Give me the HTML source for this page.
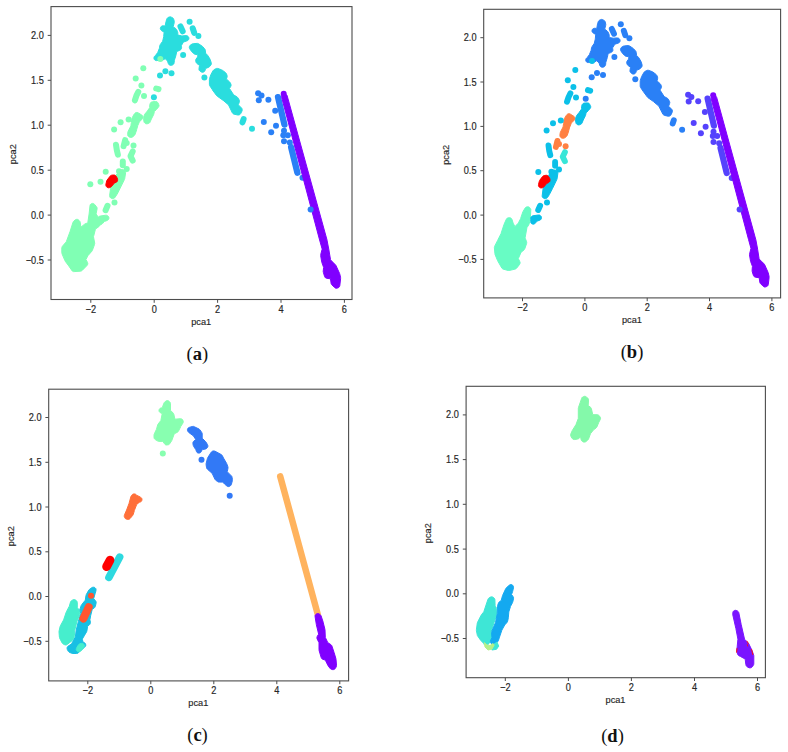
<!DOCTYPE html>
<html><head><meta charset="utf-8"><style>
html,body{margin:0;padding:0;background:#fff;}
svg{display:block;}
.t{font-family:"Liberation Sans",sans-serif;font-size:9.2px;fill:#262626;stroke:#262626;stroke-width:0.15px;}
.cap{font-family:"Liberation Serif",serif;font-size:18.5px;fill:#111;}
</style></head><body>
<svg width="788" height="752" viewBox="0 0 788 752">
<rect width="788" height="752" fill="#fff"/>
<g>
<polygon points="78.7,220.1 78.2,219.7 77.6,219.4 77,219.3 76.3,219.4 75.7,219.6 75.2,219.9 73.8,221.1 73.3,221.7 73,222.3 70,231.7 70,231.7 66.3,241.7 66,242.1 62.4,246.3 62.1,246.8 61.9,247.4 61.8,248 61.8,252.8 61.9,253.3 62,253.8 64.9,260.6 65.2,261.2 68.8,266 68.8,266 71.8,270.4 72.2,271 72.8,271.3 73.4,271.6 74.1,271.6 80.5,271.2 81.1,271 81.7,270.8 82.2,270.4 87,265.5 87.4,265 87.7,264.3 87.8,263.7 87.7,263 87.5,262.4 86,259.7 85.9,259.6 86,259.5 87.7,256 87.9,255.7 91.9,251.2 92.4,250.3 94.5,244.5 94.7,243.8 94.7,243.1 93.5,236.9 93.5,236.8 93.5,236.7 95.4,229.3 95.4,229.2 95.5,229.1 99.1,226.4 99.6,225.9 100,225.2 100.2,224.5 100.1,223.7 98.7,218.2 98.4,217.4 96.2,214.1 96.1,214 96.1,213.8 97.1,208.8 97.1,208 96.9,207.3 96.5,206.7 94.6,204.4 94,203.9 93.4,203.6 93.4,203.6 92.7,203.4 92.1,203.5 91.4,203.7 90.9,204 90.4,204.5 90.1,205.1 90,205.7 89.1,214 89.1,214 87.8,222.6 87.8,222.8 87.6,222.9 85,223.9 84.3,224.4 80.9,227.2 80.8,227.3 80.8,227.1 80.3,222.5 80.2,221.9 79.9,221.4 79.5,220.9" fill="#80ffb4" stroke="#80ffb4" stroke-width="1" stroke-linejoin="round"/>
<polygon points="100.1,216.1 99.4,216.3 98.8,216.6 98.4,217.1 98.1,217.7 97.9,218.4 97.9,219.1 98,219.4 98,219.6 97.9,221.9 98,222.6 98.2,223.2 98.7,223.8 99.2,224.2 99.9,224.5 100.6,224.6 101.3,224.4 102,224.1 102.5,223.6 104.2,221.6 104.3,221.5 104.5,221.4 107.2,220.5 107.8,220.1 108.3,219.7 108.7,219.1 108.9,218.5 108.9,217.8 108.8,217.1 108.5,216.5 108,216 107.7,215.8 107.1,215.4 106.4,215.2 105.6,215.2" fill="#80ffb4" stroke="#80ffb4" stroke-width="1" stroke-linejoin="round"/>
<polyline points="107.5,205.8 105.6,210.2" fill="none" stroke="#80ffb4" stroke-width="6" stroke-linecap="round" stroke-linejoin="round"/>
<circle cx="114.5" cy="202.6" r="3" fill="#80ffb4"/>
<polygon points="123.1,169.7 122.5,169.5 121.9,169.5 121.2,169.7 120.6,170 120.2,170.4 116,175.1 115.5,175.8 110.7,187.8 110.6,188.4 109.6,195.5 109.6,196.2 109.8,196.8 110.1,197.4 110.6,197.9 110.9,198.1 111.6,198.5 112.3,198.7 113.1,198.6 113.5,198.5 114.1,198.2 114.6,197.9 115,197.4 116.9,194.5 117.1,194.3 120.2,188.1 120.2,188.1 124.4,179.6 124.7,178.8 125.6,172.9 125.6,172.2 125.4,171.6 125.1,171 124.6,170.5 124,170.1" fill="#80ffb4" stroke="#80ffb4" stroke-width="1" stroke-linejoin="round"/>
<circle cx="105.7" cy="171.7" r="3" fill="#80ffb4"/>
<circle cx="119" cy="171.3" r="3" fill="#80ffb4"/>
<circle cx="126.7" cy="169" r="3" fill="#80ffb4"/>
<circle cx="100.5" cy="181.7" r="3" fill="#80ffb4"/>
<circle cx="90.3" cy="184.3" r="3" fill="#80ffb4"/>
<polyline points="122.8,161.4 122.8,165.2" fill="none" stroke="#80ffb4" stroke-width="6" stroke-linecap="round" stroke-linejoin="round"/>
<polyline points="132.7,151.5 130.5,156.1 132.7,160.6" fill="none" stroke="#80ffb4" stroke-width="6" stroke-linecap="round" stroke-linejoin="round"/>
<polyline points="116,144.7 116.8,150 117.9,154.6" fill="none" stroke="#80ffb4" stroke-width="6" stroke-linecap="round" stroke-linejoin="round"/>
<circle cx="133.5" cy="145.4" r="3" fill="#80ffb4"/>
<polyline points="125.1,140.1 123.6,146.2" fill="none" stroke="#80ffb4" stroke-width="6" stroke-linecap="round" stroke-linejoin="round"/>
<circle cx="126.7" cy="143.1" r="3" fill="#80ffb4"/>
<polygon points="138.4,112.9 137.8,112.6 137,112.4 136.3,112.5 135.6,112.7 135,113.2 134.5,113.7 134.1,114.2 132.3,117.5 131.9,118.4 131.4,122.4 130.9,125.7 130.8,126.1 128.2,131.2 127.9,132 127.7,134.2 127.7,134.9 127.8,135.6 128.2,136.2 128.6,136.6 129.2,137 129.9,137.3 130.6,137.5 131.3,137.5 132,137.3 132.6,136.9 134.3,135.5 134.8,134.9 135.1,134.3 136.6,130 136.6,129.8 137.7,126 137.7,125.8 139.3,122.1 139.6,121.7 142.2,119.1 142.7,118.5 142.9,117.8 143,117.1 142.9,116.4 142.5,115.8 142.1,115.2 141.7,115 141.7,115 139,113.3 138.9,113.3" fill="#80ffb4" stroke="#80ffb4" stroke-width="1" stroke-linejoin="round"/>
<polygon points="152.4,101.8 151.8,101.9 151.1,102.2 150.6,102.7 150.3,103.3 149.9,104.2 149.8,104.7 149.7,105.2 149.7,107.4 149.7,107.6 149.6,107.8 147.4,110.9 147.4,111 144.9,114 144.4,114.9 143.7,117.5 143.6,118 143.6,118.5 143.9,121.3 144,122 144.4,122.6 144.9,123.1 145.2,123.3 145.7,123.7 146.4,123.8 147,123.9 147.6,123.7 148.6,123.4 149.3,123.1 149.8,122.6 150.1,121.9 151.4,119 151.4,119 153.6,114.7 153.8,114.1 154.3,111.8 154.3,111.6 154.4,111.5 156.5,109.4 156.7,109.2 158.4,107.2 158.8,106.6 159,105.8 159,105.1 158.7,104.4 158,102.9 157.7,102.4 157.2,102 156.7,101.6 156,101.5 155.4,101.5" fill="#80ffb4" stroke="#80ffb4" stroke-width="1" stroke-linejoin="round"/>
<circle cx="128.6" cy="119.4" r="3" fill="#80ffb4"/>
<circle cx="120.6" cy="122.2" r="3" fill="#80ffb4"/>
<circle cx="114.1" cy="129.4" r="3" fill="#80ffb4"/>
<circle cx="143.3" cy="68.2" r="3" fill="#80ffb4"/>
<circle cx="135.7" cy="78.6" r="3" fill="#80ffb4"/>
<circle cx="141.4" cy="85.4" r="3" fill="#80ffb4"/>
<circle cx="144" cy="96.1" r="3" fill="#80ffb4"/>
<polyline points="156.2,88.5 158.5,89.2" fill="none" stroke="#80ffb4" stroke-width="6" stroke-linecap="round" stroke-linejoin="round"/>
<polyline points="138.3,91.9 136.4,95.7 134.9,100.3" fill="none" stroke="#80ffb4" stroke-width="6" stroke-linecap="round" stroke-linejoin="round"/>
<polygon points="111.7,175.2 111,175.4 110.4,175.8 110,176.3 107.1,180.1 106.8,180.5 106.7,181 105.9,184.3 105.8,185.1 106,185.8 106.3,186.5 106.5,186.7 107,187.3 107.7,187.6 108.4,187.8 109.2,187.7 109.8,187.6 110.5,187.3 111.2,186.8 114.4,183.1 114.5,183 114.6,182.9 116,182.4 116.7,182 117.2,181.4 117.5,180.7 117.6,180 117.6,179.4 117.5,178.6 117.2,178 116,176.1 115.5,175.6 114.9,175.2 114.2,175 113.4,175" fill="#ff0000" stroke="#ff0000" stroke-width="1" stroke-linejoin="round"/>
<polygon points="155.1,55.8 154.6,56.2 154.2,56.8 154,57.4 153.9,58 154,58.7 154.2,59.3 154.6,59.8 155.1,60.2 155.7,60.5 156.3,60.6 157,60.6 158.3,60.3 158.5,60.3 161.5,60.3 162.2,60.2 162.8,60 165.1,58.8 165.2,58.7 165.3,58.8 167.4,60.9 167.5,61 167.5,61.1 168.3,63.5 168.5,64.1 168.9,64.6 169.4,64.9 170,65.2 170.2,65.3 170.9,65.4 171.6,65.3 172.3,65.1 172.8,64.8 173.3,64.4 173.7,63.9 174,63.4 174.1,62.8 174.4,60.4 174.4,60.2 175.8,55.9 175.9,55.5 176.7,51.7 176.7,51.5 176.9,51.4 179.4,50.5 180,50.2 180.5,49.8 181,49.4 181.3,48.9 181.5,48.3 181.6,47.7 181.5,47 181.2,46 181.2,45.8 181.3,45.7 183.4,42.1 183.5,42 183.6,42 187.1,40.8 187.8,40.5 188.3,40 188.7,39.4 188.9,38.7 188.9,38 188.7,37.3 188.3,36.7 188.2,36.5 187.7,36.1 187.2,35.8 186.6,35.6 186,35.6 182.2,35.9 181.8,35.9 178,35.1 177.8,35.1 177.8,34.9 177.8,32.7 177.7,32.1 177.5,31.6 176.6,29.6 176.2,29.1 175.8,28.6 173.3,26.9 173.2,26.8 173.2,26.6 174.2,22.8 174.3,22.2 174.3,21.6 173.8,19.6 173.6,18.9 173.2,18.3 172.6,17.8 171.4,17.2 170.8,16.9 170.2,16.8 169.6,16.9 169,17.1 168.1,17.5 167.5,17.9 167.1,18.4 166.8,19.1 166.1,21.2 166,21.6 165.2,25.8 165.2,26 165,26 163.2,25.8 162.5,25.8 161.9,26 161.3,26.4 160.8,26.9 160.5,27.5 160.3,28.1 160.4,28.8 160.6,29.5 160.9,30 161.1,30.2 161.8,30.8 163.9,32 164.1,32.1 164.1,32.3 163.7,36.6 163.7,36.8 162.7,41 162.5,41.4 160.3,44.5 160,45 159.8,45.6 159.5,47.9 159.4,48.3 157.7,52.5 157.5,52.8 155.4,55.6 155.3,55.7" fill="#2addde" stroke="#2addde" stroke-width="1" stroke-linejoin="round"/>
<polyline points="180.5,26.4 182.7,31.3" fill="none" stroke="#2addde" stroke-width="6" stroke-linecap="round" stroke-linejoin="round"/>
<circle cx="189.6" cy="21.8" r="3" fill="#2addde"/>
<polyline points="192.7,28.3 194.2,32.8" fill="none" stroke="#2addde" stroke-width="6" stroke-linecap="round" stroke-linejoin="round"/>
<circle cx="198.4" cy="35.9" r="3" fill="#2addde"/>
<circle cx="183.1" cy="54.9" r="3" fill="#2addde"/>
<circle cx="160" cy="75.5" r="3" fill="#2addde"/>
<circle cx="165.4" cy="71.3" r="3" fill="#2addde"/>
<circle cx="171.5" cy="73.2" r="3" fill="#2addde"/>
<circle cx="153.9" cy="97.2" r="3" fill="#2addde"/>
<polygon points="190.6,45 190,45.4 189.6,46 189.4,46.7 189.4,46.9 189.3,47.5 189.5,48.2 189.7,48.7 191,50.7 191.3,51.1 193.5,53.4 194.2,53.9 194.9,54.2 197.7,54.8 197.9,54.8 197.9,55 197.6,56.8 197.6,57 197.5,57.1 196.1,59 195.8,59.5 195.7,60.2 195.6,60.8 195.8,61.4 196.1,62.4 196.5,63 197,63.6 199.4,65.3 199.5,65.4 199.5,65.6 199,68.5 198.9,69.2 199.1,69.8 199.4,70.5 199.9,71 200.9,71.7 201.5,72.1 202.2,72.3 202.9,72.3 203.5,72.1 203.7,72 204.3,71.6 204.8,71 205.1,70.3 205.5,68.7 205.6,68.5 205.8,68.4 208.8,67.2 209.3,66.8 209.8,66.4 210.8,65 211.2,64.5 211.4,63.8 211.4,63.2 211.2,62.6 210.2,59.6 210,59.1 207.9,55.7 207.6,55.3 205.7,53.3 205.6,53.2 205.6,53.1 205.3,50.2 205.1,49.5 204.6,48.8 202.7,46.6 202.2,46.2 198.6,43.8 198.1,43.5 197.6,43.4 197,43.4 193.2,43.7 192.6,43.8 192.1,44" fill="#2addde" stroke="#2addde" stroke-width="1" stroke-linejoin="round"/>
<circle cx="204.4" cy="77.6" r="3" fill="#2addde"/>
<polygon points="218.1,68.5 217.4,68.4 216.6,68.4 216,68.7 214.2,69.6 213.6,70.1 213.1,70.6 211,74.4 210.8,74.8 209.5,78.7 209.4,79.5 209.4,84.4 209.5,85.2 209.8,85.8 212.4,89.7 212.4,89.9 216.7,95.7 217.3,96.2 222.9,100.2 223,100.2 228.3,104.7 228.4,104.8 228.5,104.9 232.3,112.8 232.8,113.4 233.4,113.9 234.1,114.2 237.8,115 238.5,115 239.2,114.9 239.8,114.6 240.3,114.1 240.7,113.6 242,111 242.2,110.4 242.2,109.7 242.1,109.1 241.9,108.5 241.5,108 238.4,104.9 238.3,104.8 238.4,104.6 239.3,102.1 239.5,101.3 239.4,100.5 239.1,99.8 237.8,97.7 237.4,97.2 236.9,96.8 233.8,95 233.7,94.9 233.6,94.8 229.6,88.7 229.5,88.5 229.6,88.3 230.7,86.5 231,85.9 231.1,85.2 231,84.5 230.8,83.9 230.1,82.6 229.6,81.9 226.6,79.2 226.5,79.1 226.5,78.9 227.1,76.9 227.2,76.1 227,75.3 226.4,73.7 226,73.1 225.5,72.6 222.3,70.2 221.7,69.9" fill="#2addde" stroke="#2addde" stroke-width="1" stroke-linejoin="round"/>
<polyline points="243.6,119.2 242.5,122.3" fill="none" stroke="#2addde" stroke-width="6" stroke-linecap="round" stroke-linejoin="round"/>
<circle cx="252" cy="128.7" r="3" fill="#2addde"/>
<circle cx="160.3" cy="59.1" r="3" fill="#80ffb4"/>
<circle cx="258.1" cy="93.3" r="3" fill="#2a80f6"/>
<circle cx="261.5" cy="95.6" r="3" fill="#2a80f6"/>
<circle cx="258.8" cy="100.2" r="3" fill="#2a80f6"/>
<circle cx="268.4" cy="99.8" r="3" fill="#2a80f6"/>
<circle cx="275.2" cy="110.8" r="3" fill="#2a80f6"/>
<circle cx="263.8" cy="121.9" r="3" fill="#2a80f6"/>
<circle cx="276" cy="125.7" r="3" fill="#2a80f6"/>
<circle cx="271.2" cy="132.2" r="3" fill="#2a80f6"/>
<circle cx="284" cy="130.7" r="3" fill="#2a80f6"/>
<circle cx="283.3" cy="135.2" r="3" fill="#2a80f6"/>
<circle cx="287.8" cy="135.2" r="3" fill="#2a80f6"/>
<circle cx="284" cy="141.3" r="3" fill="#2a80f6"/>
<circle cx="289.8" cy="142.5" r="3" fill="#2a80f6"/>
<circle cx="302.5" cy="177.7" r="3" fill="#2a80f6"/>
<polyline points="278,97.1 284.4,124.6" fill="none" stroke="#2a80f6" stroke-width="6.3" stroke-linecap="round" stroke-linejoin="round"/>
<polyline points="291.1,147.3 297.4,172.7" fill="none" stroke="#2a80f6" stroke-width="6.3" stroke-linecap="round" stroke-linejoin="round"/>
<polygon points="283.7,94.1 283,94.3 282.4,94.7 282,95.3 281.7,95.9 281.5,96.6 281.6,97.3 319.6,240 319.6,240 322.1,248.9 322.1,249.1 322.1,249.3 320.7,254.7 320.7,255.2 320.7,255.7 321.7,261.9 321.8,262.3 323.6,267.3 323.6,267.4 323.6,267.5 323.2,271.5 323.4,272.5 324.6,276.5 324.9,277.2 325.4,277.7 326,278.1 326.8,278.3 330.3,278.8 330.5,278.8 330.5,279 331.1,283.3 331.2,283.9 331.5,284.4 331.8,284.8 334.6,287.5 335.2,288 335.9,288.2 336.6,288.3 337.4,288.1 338.2,287.8 338.8,287.4 339.3,286.9 339.6,286.3 339.8,285.7 340.6,278.6 340.6,277.6 339.7,273.7 339.5,273.3 336,265.6 335.4,264.8 332.7,262.1 332.7,262.1 330.6,259.9 330.5,259.8 330.5,259.6 328.9,249.9 328.9,249.9 327,240.1 327,239.9 287.2,95.9 287,95.3 286.6,94.8 286.1,94.4 285.5,94.1 284.9,94 284.3,94" fill="#8000ff" stroke="#8000ff" stroke-width="1" stroke-linejoin="round"/>
<circle cx="283.7" cy="93.7" r="3" fill="#8000ff"/>
<circle cx="310.6" cy="209.5" r="3" fill="#2a80f6"/>
<polygon points="514.9,226.6 514.8,226.4 513.2,223.2 513.1,223 512,219.5 511.7,218.9 511.2,218.3 510.6,217.9 509.9,217.7 509.2,217.7 508.3,217.8 507.7,218 507.1,218.3 506.6,218.7 506.3,219.3 504.1,224.2 504,224.5 501.1,233.3 501.1,233.5 497.7,240.3 494.6,246.4 494.4,247.1 494.4,247.8 494.9,253.6 495,254.4 497.6,260.7 497.8,261.1 501.8,268 502.2,268.5 502.7,268.9 503.3,269.2 508,270.4 508.6,270.5 509.2,270.5 515.1,269.1 515.7,268.9 516.2,268.6 516.6,268.2 519.6,264.4 519.9,263.8 520.1,263.1 520.1,262.3 519.8,261.6 518.4,258.8 518.3,258.6 518.4,258.4 521,252.4 521.1,252.3 521.2,252.2 524,249.9 524.5,249.3 524.8,248.7 526.6,243.5 526.7,242.9 526.7,242.3 526.6,241.7 525.2,238.2 525.1,238 525.1,237.8 526.9,227.8 526.9,227.7 527,227.6 528.8,224.7 529.2,223.8 530.3,218.8 530.3,218.4 530.8,210.3 530.8,209.4 530.4,208.7 530,208 529.5,207.4 528.9,207 528.2,206.8 527.4,206.8 526.9,206.9 526.2,207.1 525.5,207.6 525.1,208.1 523.1,211.4 522.8,212 520.6,218.5 520.6,218.7 518.4,222.9 518.2,223.2 515,226.5" fill="#68fcc4" stroke="#68fcc4" stroke-width="1" stroke-linejoin="round"/>
<polygon points="532.8,215.8 532.2,216 531.6,216.4 531.1,216.9 530.8,217.5 530.7,218.1 530.7,218.8 530.7,219.1 530.8,219.3 530.7,221.5 530.7,222.2 531,222.9 531.4,223.5 532,223.9 532.6,224.1 533.3,224.2 534,224.1 534.7,223.8 535.2,223.3 536.9,221.3 537,221.2 537.1,221.1 539.8,220.2 540.4,219.9 540.9,219.4 541.3,218.8 541.5,218.2 541.5,217.5 541.4,216.9 541.1,216.3 540.6,215.8 540.3,215.5 539.7,215.1 539,215 538.3,215" fill="#0bc0e8" stroke="#0bc0e8" stroke-width="1" stroke-linejoin="round"/>
<polyline points="540.1,205.7 538.2,210" fill="none" stroke="#0bc0e8" stroke-width="5.9" stroke-linecap="round" stroke-linejoin="round"/>
<circle cx="547" cy="202.6" r="3" fill="#0bc0e8"/>
<polygon points="555.4,170.1 554.8,170 554.2,170 553.6,170.1 553,170.4 552.5,170.8 548.5,175.4 548,176.2 543.3,188 543.1,188.6 542.2,195.6 542.2,196.2 542.3,196.9 542.7,197.5 543.2,197.9 543.4,198.1 544.1,198.5 544.9,198.7 545.6,198.6 546,198.5 546.6,198.2 547.1,197.9 547.5,197.4 549.4,194.6 549.5,194.3 552.6,188.3 552.6,188.3 556.7,179.8 557,179.1 557.9,173.3 557.9,172.6 557.7,172 557.4,171.4 556.9,170.9 556.3,170.5" fill="#0bc0e8" stroke="#0bc0e8" stroke-width="1" stroke-linejoin="round"/>
<circle cx="538.3" cy="172.1" r="3" fill="#0bc0e8"/>
<circle cx="551.4" cy="171.7" r="3" fill="#0bc0e8"/>
<circle cx="559" cy="169.4" r="3" fill="#0bc0e8"/>
<polyline points="555.1,161.9 555.1,165.7" fill="none" stroke="#0bc0e8" stroke-width="5.9" stroke-linecap="round" stroke-linejoin="round"/>
<polyline points="564.9,152.2 562.7,156.7 564.9,161.2" fill="none" stroke="#38e6d8" stroke-width="5.9" stroke-linecap="round" stroke-linejoin="round"/>
<polyline points="548.5,145.5 549.2,150.7 550.3,155.2" fill="none" stroke="#0bc0e8" stroke-width="5.9" stroke-linecap="round" stroke-linejoin="round"/>
<circle cx="565.6" cy="146.2" r="3" fill="#ff8042"/>
<polyline points="557.4,140.9 555.9,147" fill="none" stroke="#ff8042" stroke-width="5.9" stroke-linecap="round" stroke-linejoin="round"/>
<circle cx="559" cy="143.9" r="3" fill="#ff8042"/>
<polygon points="570.5,114.2 569.8,113.8 569.1,113.7 568.4,113.7 567.7,114 567.1,114.4 566.7,114.9 566.3,115.4 564.4,118.6 564.1,119.6 563.6,123.5 563.1,126.7 563,127.1 560.4,132.2 560.2,133 559.9,135.2 559.9,135.8 560.1,136.5 560.4,137.1 560.9,137.5 561.4,137.9 562.2,138.2 562.8,138.3 563.5,138.3 564.2,138.1 564.8,137.8 566.5,136.4 566.9,135.9 567.3,135.2 568.7,131 568.7,130.8 569.7,127 569.8,126.9 571.3,123.2 571.6,122.8 574.2,120.2 574.6,119.7 574.9,119 575,118.3 574.8,117.6 574.5,117 574,116.4 573.7,116.2 573.7,116.2 571,114.6 570.9,114.5" fill="#ff8042" stroke="#ff8042" stroke-width="1" stroke-linejoin="round"/>
<polygon points="584.2,103.1 583.6,103.3 583,103.6 582.5,104.1 582.1,104.7 581.8,105.6 581.6,106.1 581.6,106.6 581.6,108.7 581.5,108.9 581.5,109.1 579.3,112.2 579.3,112.3 576.9,115.2 576.4,116.1 575.6,118.6 575.5,119.2 575.5,119.7 575.8,122.4 576,123.1 576.3,123.7 576.8,124.2 577.1,124.4 577.7,124.7 578.3,124.9 578.9,124.9 579.5,124.8 580.5,124.5 581.1,124.1 581.6,123.7 582,123 583.2,120.2 583.2,120.1 585.3,115.9 585.6,115.3 586,113 586.1,112.9 586.2,112.7 588.3,110.7 588.4,110.5 590.1,108.5 590.5,107.9 590.7,107.2 590.7,106.4 590.4,105.7 589.7,104.3 589.4,103.8 588.9,103.3 588.4,103 587.8,102.9 587.2,102.9" fill="#0bc0e8" stroke="#0bc0e8" stroke-width="1" stroke-linejoin="round"/>
<circle cx="560.8" cy="120.5" r="3" fill="#0bc0e8"/>
<circle cx="553" cy="123.3" r="3" fill="#0bc0e8"/>
<circle cx="546.6" cy="130.4" r="3" fill="#0bc0e8"/>
<circle cx="575.3" cy="70.1" r="3" fill="#0bc0e8"/>
<circle cx="567.8" cy="80.3" r="3" fill="#0bc0e8"/>
<circle cx="573.4" cy="87" r="3" fill="#0bc0e8"/>
<circle cx="576" cy="97.6" r="3" fill="#0bc0e8"/>
<polyline points="587.9,90.1 590.2,90.8" fill="none" stroke="#0bc0e8" stroke-width="5.9" stroke-linecap="round" stroke-linejoin="round"/>
<polyline points="570.4,93.4 568.5,97.2 567,101.7" fill="none" stroke="#0bc0e8" stroke-width="5.9" stroke-linecap="round" stroke-linejoin="round"/>
<polygon points="544.2,175.6 543.5,175.8 543,176.1 542.5,176.6 539.7,180.3 539.5,180.8 539.3,181.3 538.5,184.5 538.4,185.3 538.6,186 538.9,186.7 539.1,186.9 539.6,187.4 540.3,187.8 541,187.9 541.7,187.9 542.3,187.8 543.1,187.5 543.7,187 546.9,183.3 547,183.2 547.1,183.2 548.5,182.6 549.1,182.2 549.6,181.7 549.9,181 550,180.2 550,179.6 549.9,178.9 549.6,178.3 548.5,176.5 548,175.9 547.4,175.5 546.7,175.3 545.9,175.3" fill="#ff0000" stroke="#ff0000" stroke-width="1" stroke-linejoin="round"/>
<polygon points="586.8,57.9 586.4,58.3 586,58.8 585.8,59.4 585.7,60 585.8,60.7 586,61.3 586.4,61.8 586.9,62.2 587.4,62.5 588.1,62.6 588.7,62.5 590,62.3 590.2,62.3 593.2,62.3 593.8,62.2 594.4,62 596.6,60.8 596.8,60.7 596.9,60.8 598.9,62.9 599,63 599.1,63.1 599.8,65.4 600.1,66 600.5,66.5 600.9,66.9 601.5,67.1 601.7,67.2 602.4,67.3 603.1,67.2 603.7,67 604.3,66.7 604.8,66.3 605.2,65.8 605.4,65.3 605.6,64.7 605.8,62.4 605.9,62.1 607.2,57.9 607.3,57.6 608.1,53.8 608.1,53.6 608.2,53.5 610.7,52.6 611.3,52.3 611.8,52 612.3,51.6 612.6,51 612.9,50.4 612.9,49.8 612.8,49.2 612.6,48.2 612.5,48 612.6,47.8 614.7,44.4 614.8,44.3 614.9,44.2 618.3,43.1 619,42.8 619.5,42.3 619.9,41.7 620.1,41 620.1,40.3 619.9,39.6 619.5,39 619.3,38.8 618.9,38.4 618.4,38.1 617.8,38 617.2,37.9 613.5,38.2 613.1,38.2 609.3,37.5 609.2,37.4 609.2,37.3 609.2,35.1 609.1,34.5 608.9,33.9 608,32 607.6,31.5 607.2,31 604.8,29.3 604.7,29.2 604.7,29.1 605.7,25.3 605.8,24.7 605.7,24.1 605.3,22.1 605,21.4 604.6,20.8 604,20.4 602.9,19.8 602.3,19.5 601.7,19.4 601.1,19.5 600.5,19.7 599.6,20.1 599.1,20.5 598.6,21 598.3,21.6 597.6,23.8 597.5,24.1 596.8,28.3 596.8,28.4 596.6,28.4 594.8,28.3 594.2,28.3 593.5,28.5 592.9,28.8 592.5,29.3 592.2,29.9 592,30.6 592,31.2 592.2,31.9 592.6,32.4 592.7,32.6 593.5,33.2 595.5,34.4 595.7,34.5 595.7,34.7 595.3,38.9 595.3,39.1 594.3,43.2 594.1,43.6 592,46.7 591.7,47.2 591.5,47.8 591.2,50.1 591.1,50.4 589.4,54.6 589.2,54.9 587.2,57.6 587.1,57.7" fill="#2a80f6" stroke="#2a80f6" stroke-width="1" stroke-linejoin="round"/>
<polyline points="611.8,28.9 614,33.7" fill="none" stroke="#2a80f6" stroke-width="5.9" stroke-linecap="round" stroke-linejoin="round"/>
<circle cx="620.8" cy="24.3" r="3" fill="#2a80f6"/>
<polyline points="623.8,30.7 625.3,35.2" fill="none" stroke="#2a80f6" stroke-width="5.9" stroke-linecap="round" stroke-linejoin="round"/>
<circle cx="629.4" cy="38.2" r="3" fill="#2a80f6"/>
<circle cx="614.4" cy="57" r="3" fill="#2a80f6"/>
<circle cx="591.7" cy="77.3" r="3" fill="#2a80f6"/>
<circle cx="597" cy="73.1" r="3" fill="#2a80f6"/>
<circle cx="603" cy="75" r="3" fill="#2a80f6"/>
<circle cx="585.7" cy="98.7" r="3" fill="#2a80f6"/>
<polygon points="621.7,47.2 621.2,47.6 620.8,48.2 620.6,48.9 620.5,49.1 620.5,49.7 620.6,50.3 620.9,50.9 622.1,52.8 622.4,53.2 624.6,55.5 625.2,56 625.9,56.2 628.8,56.8 628.9,56.9 628.9,57 628.6,58.9 628.6,59 628.5,59.2 627.2,61 626.9,61.5 626.7,62.1 626.7,62.8 626.8,63.4 627.2,64.3 627.5,65 628.1,65.5 630.3,67.2 630.5,67.3 630.5,67.5 630,70.3 629.9,71 630.1,71.7 630.4,72.3 630.9,72.8 631.8,73.5 632.4,73.9 633.1,74.1 633.8,74.1 634.5,73.9 634.6,73.8 635.2,73.4 635.7,72.8 636,72.1 636.4,70.6 636.5,70.4 636.7,70.3 639.6,69 640.2,68.7 640.6,68.2 641.6,66.9 642,66.4 642.1,65.8 642.1,65.1 642,64.5 641,61.5 640.8,61.1 638.8,57.8 638.4,57.3 636.6,55.4 636.5,55.3 636.5,55.1 636.2,52.4 636,51.6 635.5,50.9 633.6,48.8 633.2,48.4 629.6,46 629.1,45.8 628.6,45.6 628,45.6 624.3,45.9 623.7,46 623.2,46.3" fill="#2a80f6" stroke="#2a80f6" stroke-width="1" stroke-linejoin="round"/>
<circle cx="635.3" cy="79.3" r="3" fill="#2a80f6"/>
<polygon points="648.8,70.4 648.1,70.2 647.3,70.3 646.6,70.5 644.9,71.5 644.3,71.9 643.9,72.5 641.8,76.2 641.6,76.6 640.3,80.4 640.2,81.2 640.2,86.1 640.3,86.8 640.6,87.5 643.1,91.3 643.2,91.4 647.4,97.1 648,97.7 653.5,101.6 653.6,101.7 658.8,106.1 658.9,106.2 658.9,106.3 662.8,114 663.2,114.6 663.8,115.1 664.5,115.4 668.1,116.2 668.8,116.2 669.5,116.1 670.1,115.8 670.6,115.4 671,114.8 672.2,112.2 672.4,111.6 672.5,111 672.4,110.4 672.1,109.8 671.7,109.3 668.7,106.3 668.6,106.1 668.7,106 669.6,103.5 669.8,102.7 669.7,101.9 669.4,101.2 668.2,99.1 667.8,98.6 667.2,98.2 664.2,96.5 664.1,96.4 664,96.3 660.1,90.2 660,90.1 660,89.9 661.2,88.1 661.4,87.5 661.5,86.8 661.5,86.2 661.2,85.5 660.6,84.3 660,83.6 657.1,80.9 657,80.8 657.1,80.6 657.6,78.7 657.7,77.9 657.5,77.1 656.9,75.5 656.5,74.9 656,74.4 652.9,72 652.3,71.7" fill="#2a80f6" stroke="#2a80f6" stroke-width="1" stroke-linejoin="round"/>
<polyline points="673.8,120.3 672.7,123.4" fill="none" stroke="#2a80f6" stroke-width="5.9" stroke-linecap="round" stroke-linejoin="round"/>
<circle cx="682.1" cy="129.7" r="3" fill="#2a80f6"/>
<circle cx="592" cy="61.1" r="3" fill="#0bc0e8"/>
<circle cx="688.1" cy="94.8" r="3" fill="#5542fd"/>
<circle cx="691.4" cy="97.1" r="3" fill="#5542fd"/>
<circle cx="688.7" cy="101.6" r="3" fill="#5542fd"/>
<circle cx="698.2" cy="101.2" r="3" fill="#5542fd"/>
<circle cx="704.9" cy="112.1" r="3" fill="#5542fd"/>
<circle cx="693.7" cy="123" r="3" fill="#5542fd"/>
<circle cx="705.6" cy="126.7" r="3" fill="#5542fd"/>
<circle cx="700.9" cy="133.2" r="3" fill="#5542fd"/>
<circle cx="713.5" cy="131.7" r="3" fill="#5542fd"/>
<circle cx="712.8" cy="136.1" r="3" fill="#5542fd"/>
<circle cx="717.2" cy="136.1" r="3" fill="#5542fd"/>
<circle cx="713.5" cy="142.1" r="3" fill="#5542fd"/>
<circle cx="719.2" cy="143.3" r="3" fill="#5542fd"/>
<circle cx="731.7" cy="178" r="3" fill="#5542fd"/>
<polyline points="707.6,98.6 713.9,125.7" fill="none" stroke="#5542fd" stroke-width="6.2" stroke-linecap="round" stroke-linejoin="round"/>
<polyline points="720.5,148 726.7,173.1" fill="none" stroke="#5542fd" stroke-width="6.2" stroke-linecap="round" stroke-linejoin="round"/>
<polygon points="713.2,95.6 712.5,95.8 711.9,96.2 711.5,96.8 711.2,97.4 711.1,98.1 711.2,98.8 748.5,239.4 748.5,239.4 750.9,248.2 750.9,248.4 750.9,248.6 749.6,253.9 749.5,254.4 749.5,254.9 750.5,261 750.6,261.4 752.4,266.3 752.4,266.4 752.4,266.6 752.1,270.5 752.2,271.5 753.4,275.4 753.7,276.1 754.2,276.6 754.8,277 755.5,277.2 759,277.7 759.2,277.7 759.2,277.8 759.8,282.1 759.9,282.7 760.1,283.2 760.5,283.6 763.2,286.3 763.8,286.7 764.5,287 765.2,287 765.9,286.8 766.7,286.5 767.3,286.2 767.8,285.7 768.1,285.1 768.3,284.4 769.1,277.4 769.1,276.5 768.2,272.7 768,272.2 764.6,264.6 764,263.8 761.4,261.2 761.3,261.2 759.3,259.1 759.2,258.9 759.1,258.8 757.6,249.2 757.6,249.1 755.8,239.5 755.7,239.3 716.7,97.4 716.4,96.8 716.1,96.3 715.6,95.9 715,95.6 714.4,95.5 713.8,95.5" fill="#8000ff" stroke="#8000ff" stroke-width="1" stroke-linejoin="round"/>
<circle cx="713.2" cy="95.2" r="3" fill="#8000ff"/>
<circle cx="739.6" cy="209.4" r="3" fill="#5542fd"/>
<polygon points="161.3,407.9 160.6,408.1 160,408.4 159.5,408.9 159.2,409.5 159,410.2 159,410.9 159.2,411.5 159.6,412.1 160.1,412.6 160.7,412.9 162,413.4 162.2,413.5 162.2,413.7 160.9,420.3 160.9,420.5 160.8,420.6 158.2,423.9 157.9,424.3 157.7,424.8 156.5,429.2 156.4,429.4 154.3,433.9 154.1,434.4 154,435 154,437.4 154.1,438.1 154.4,438.7 154.8,439.2 155.3,439.6 157.8,441.1 158.4,441.3 159.1,441.4 162.6,441.4 162.8,441.4 162.9,441.5 164.5,443.8 165,444.4 165.6,444.8 166.3,445 167,444.9 168.1,444.8 168.8,444.6 169.4,444.2 169.8,443.6 171.5,441 171.8,440.5 174.2,434 174.3,433.8 174.4,433.7 177.3,432.3 178,431.8 178.5,431.1 180.6,426.9 180.6,426.7 182.9,423.1 183.2,422.4 183.3,421.7 183.2,421 183,420.3 182.7,420 182.3,419.4 181.7,419 181,418.8 180.3,418.7 175.1,419.2 174.9,419.2 174.9,419 173.8,414.2 173.5,413.5 173.1,413 170.6,410.4 170.5,410.3 170.5,410.1 170.5,403.8 170.4,403.1 170.2,402.5 169.7,401.9 169.1,401.3 168.6,400.9 168,400.7 167.3,400.6 166.6,400.7 166,400.9 165.5,401.3 164.5,402.3 164.2,402.7 163.9,403.2 162.3,407.6 162.2,407.8 162,407.8" fill="#88ffb0" stroke="#88ffb0" stroke-width="1" stroke-linejoin="round"/>
<circle cx="162.8" cy="453.5" r="3" fill="#88ffb0"/>
<polygon points="189.2,427.4 188.6,427.7 188.1,428.1 187.7,428.7 187.5,429.3 187.4,429.9 187.5,430.6 187.7,431.2 188.2,431.8 189.3,432.9 189.7,433.2 193.1,435.6 193.4,435.9 195.7,439.4 195.8,439.5 195.7,439.6 193.9,441.1 193.4,441.5 193.1,442.1 192.9,442.8 192.9,443.5 193.2,445.2 193.4,445.8 193.6,446.3 195.7,449.5 195.9,449.8 196.4,451.4 196.7,452 197.1,452.5 197.7,452.9 198.3,453.1 199,453.1 199.7,453 200.3,452.7 200.8,452.2 201.2,451.7 202.1,449.7 202.2,449.6 202.4,449.6 205.2,449.1 205.9,448.9 206.6,448.4 207.1,447.9 207.5,447.4 207.8,446.7 207.9,446.1 207.8,445.4 207.5,444.8 206.2,442.3 205.7,441.7 202.3,438.3 202.2,438.2 202.2,438 202.2,433.9 202.1,433.1 201.7,432.4 200,429.9 199.5,429.4 199,429 194.2,426.7 193.6,426.4 193,426.4 192.3,426.5" fill="#3279f6" stroke="#3279f6" stroke-width="1" stroke-linejoin="round"/>
<circle cx="201.5" cy="459.8" r="3" fill="#3279f6"/>
<polygon points="215,451.2 214.3,451 213.6,450.9 212.9,451 212.3,451.3 211.8,451.7 211.3,452 211,452.5 207.7,457.7 207.4,458.5 206.1,463.7 206.1,464.2 206.1,464.7 206.6,467.8 206.8,468.4 207.1,468.9 207.5,469.3 212,473.2 212.1,473.3 212.2,473.4 214.9,479.2 215.3,479.7 215.7,480.2 217.6,481.6 218.3,482 219.2,482.1 222.6,482.1 222.8,482.1 222.9,482.2 224.4,483.9 224.6,484.1 226.9,486 227.5,486.4 228.2,486.6 229,486.5 229.7,486.3 230.3,485.9 230.6,485.6 231.1,485 231.4,484.3 232.4,480.5 232.4,479.5 232.1,477.4 231.9,476.6 231.4,475.9 227.4,471.9 227.3,471.8 227.3,471.6 228,467.9 228,467.2 227.8,466.5 226.7,463.6 226.5,463.2 223.5,458.1 223.5,458.1 222.4,455.8 221.9,455.1 221.3,454.6" fill="#3279f6" stroke="#3279f6" stroke-width="1" stroke-linejoin="round"/>
<circle cx="229.7" cy="495.8" r="3" fill="#3279f6"/>
<polygon points="135.9,494.5 135.3,494.1 134.6,493.9 134,493.9 133.3,494 132.7,494.3 132.2,494.7 131.5,495.5 131.2,496 130.9,496.6 129.2,502.9 129.2,503.1 126.6,510 126.6,510 124.5,514.8 124.3,515.5 124.2,516.2 124.4,516.8 124.7,517.6 125.1,518.2 125.5,518.7 126.1,519 126.8,519.2 127.8,519.4 128.4,519.4 129.1,519.2 129.7,518.9 130.1,518.5 132.6,515.5 133,515.1 133.2,514.6 134.3,510.8 134.3,510.6 136.7,504.5 136.8,504.3 136.9,504.2 139.2,502.4 139.6,502.2 140.2,502 140.8,501.8 141.3,501.4 141.7,500.8 141.9,500.2 142,499.6 141.9,498.9 141.7,498.3 141.3,497.8 140.7,497.4 140.1,497 139.9,496.8 136.9,495.4 136.7,495.2" fill="#ff6f39" stroke="#ff6f39" stroke-width="1" stroke-linejoin="round"/>
<polyline points="119.7,557.1 108.9,577.4" fill="none" stroke="#2ed9df" stroke-width="7.5" stroke-linecap="round" stroke-linejoin="round"/>
<polyline points="110,560.2 106.6,566.6" fill="none" stroke="#ff0000" stroke-width="8.8" stroke-linecap="round" stroke-linejoin="round"/>
<polygon points="75.6,600.1 75,599.8 74.3,599.6 73.5,599.6 72.8,599.9 71.8,600.5 71.2,600.9 70.8,601.4 70.5,602.1 69.3,606.2 69.2,606.4 66.4,611.8 66.2,612.2 63.6,619.9 63.5,620.1 60.4,625.8 60.1,626.5 59.1,631 59,631.8 59.4,637 59.5,637.5 59.6,638 62.1,642.9 62.6,643.5 63.2,644 64.5,644.7 65.2,644.9 66,645 66.7,644.8 67.3,644.4 72.4,640.4 72.9,639.9 73.3,639.3 74.4,636.4 74.5,635.6 74.7,630.8 74.7,630.6 76.9,621.7 76.9,621.5 79.7,614.6 79.9,613.9 79.9,613.2 79.4,610.3 79.2,609.8 78.9,609.2 78.5,608.8 77.4,607.9 77.3,607.8 77.3,607.6 77.3,602.7 77.2,602.1 77,601.5 76.7,601 76.3,600.6" fill="#46eecd" stroke="#46eecd" stroke-width="1" stroke-linejoin="round"/>
<polygon points="82.3,639 82.4,638.9 84.6,635.2 84.6,635.2 86.6,631.8 86.9,630.9 87.6,626.3 87.6,626.1 87.7,626 89.4,624.8 89.9,624.3 90.2,623.6 90.4,622.9 90.4,622.2 90,620.2 89.9,619.8 90.7,615.5 90.7,615.5 92.2,609.5 92.2,609.4 92.3,609.3 94.5,607.7 94.9,607.3 95.2,606.7 95.4,606.2 96.1,603.1 96.2,602.5 96.1,601.9 95.9,601.3 95.5,600.8 93.8,598.8 93.7,598.7 93.7,598.5 95.2,593.4 95.2,593.4 96,590.5 96.1,589.8 95.9,589.1 95.7,588.4 95.2,587.9 94.7,587.5 94,587.3 93.3,587.2 92.6,587.3 92,587.6 89.6,589.3 89.2,589.6 88.8,590.1 86.3,594.5 86,595.4 85.3,600 85.3,600.2 85.2,600.3 81.8,604.5 81.3,605.2 80.1,608.7 79.9,609.4 80,610.1 80.8,613.7 80.8,613.9 80.7,614.1 78.3,621.5 78.3,621.7 76.1,630.5 76.1,630.9 75.4,636.9 75.4,637 75.3,637.1 71.5,643.9 71.4,644 71.3,644.1 68.2,646.1 67.7,646.5 67.4,647 67.1,647.6 67.1,648.2 67.1,648.9 67.3,649.5 68.2,651.1 68.5,651.6 69,652.1 69.5,652.4 71.9,653.3 72.9,653.5 76.6,653.5 77.3,653.4 77.9,653.2 78.5,652.7 81.4,649.8 81.6,649.7 84.7,647.1 85.2,646.6 85.6,646 85.6,645.9 85.8,645.3 85.7,644.6 85.6,644 85.2,643.4 84.8,642.9 84.2,642.6 83.1,642.2 83,642.1 83,642 82.3,639.2" fill="#18bfe3" stroke="#18bfe3" stroke-width="1" stroke-linejoin="round"/>
<polygon points="76.4,648.5 76.2,649.2 76.3,649.9 76.6,650.5 77,651.1 77.6,651.5 78.2,651.8 78.9,651.8 79.6,651.7 80.2,651.4 80.8,651 83,648.5 83,648.5 83.8,647.6 84.2,647 84.4,646.4 84.5,645.7 84.3,645.1 84,644.5 83.6,643.9 83.1,643.6 82.4,643.3 81.8,643.3 81.1,643.4 79.9,643.7 79.4,644 78.9,644.3 78.5,644.8 76.7,647.7 76.4,648.3" fill="#46eecd" stroke="#46eecd" stroke-width="1" stroke-linejoin="round"/>
<circle cx="91" cy="595.7" r="3" fill="#ff5530"/>
<polyline points="88.7,607.1 83.4,618.5" fill="none" stroke="#ff5530" stroke-width="8" stroke-linecap="round" stroke-linejoin="round"/>
<polyline points="280.2,476.3 317.8,614.5" fill="none" stroke="#ffb35e" stroke-width="6.5" stroke-linecap="round" stroke-linejoin="round"/>
<polygon points="318.6,634.2 318.5,634.3 317.3,636.3 317,636.9 316.9,637.5 316.9,638.2 317.1,638.8 318.9,642.5 319,642.6 319,642.7 319,649.7 319.1,650.5 321.2,657.6 321.5,658.2 321.8,658.7 322.3,659.1 322.9,659.3 325.1,660.1 325.3,660.2 325.4,660.3 327.7,665 327.9,665.4 329.9,668.2 330.5,668.8 331.2,669.2 332.2,669.5 332.9,669.7 333.5,669.6 334.2,669.4 334.8,669 335.2,668.5 336.1,667.1 336.4,666.6 336.5,666.1 336.5,665.5 336,659.2 335.9,658.6 334.1,652.6 334.1,652.6 331.9,646 331.6,645.4 331.3,645 330.8,644.6 327.9,642.7 327.8,642.6 327.7,642.4 325.4,637.6 325.3,637.5 325.3,637.4 325,629.9 324.9,629.3 323.1,622.1 323.1,621.9 321.1,615.9 320.7,615.2 320.1,614.6 319.3,614 318.8,613.7 318.1,613.5 317.5,613.5 316.8,613.7 316.3,614 316.1,614.2 315.6,614.7 315.2,615.3 315,616 315.1,616.7 316.3,624.2 316.3,624.4 318.6,634" fill="#8000ff" stroke="#8000ff" stroke-width="1" stroke-linejoin="round"/>
<polygon points="580.6,436.7 580.6,436.9 581.1,439.6 581.3,440.2 581.7,440.8 582.2,441.2 582.8,441.7 583.4,442 584,442.1 584.7,442.1 585.4,441.9 585.9,441.6 587.6,440.2 588.1,439.7 588.5,439.1 590.4,433.9 590.6,433.5 593.4,430 593.6,429.8 596,428 596.5,427.5 596.9,426.9 598.8,422.3 598.8,422.3 600.3,419.4 600.5,418.8 600.5,418.1 600.4,417.5 600.2,416.9 599.8,416.4 598.9,415.5 598.3,415 597.7,414.8 597,414.7 592.9,414.7 592.7,414.7 592.7,414.5 591.4,408.7 591.2,408.2 590.9,407.6 590.4,407.2 588.3,405.6 588.2,405.5 588.2,405.3 588.5,400.1 588.5,399.4 588.3,398.8 588,398.3 587.5,397.9 586.2,396.9 585.7,396.5 585,396.4 584.4,396.3 583.8,396.5 583.3,396.7 582.6,397 582,397.6 581.7,398.3 580.2,402.5 578.5,407.4 578.3,408.3 578.3,418.3 578.2,418.7 576,424.5 575.9,424.7 572.3,430.5 572.1,430.9 570.8,434 570.6,434.8 570.6,435.6 570.9,436.3 572,438.2 572.4,438.7 572.9,439.1 573.4,439.4 574,439.6 574.7,439.5 577.5,439.1 578.2,438.9 578.9,438.4 580.5,436.8" fill="#84f9aa" stroke="#84f9aa" stroke-width="1" stroke-linejoin="round"/>
<polygon points="493,597.2 492.4,596.9 491.7,596.8 491,596.9 490.4,597.1 489.2,597.8 488.7,598.2 488.3,598.7 488,599.2 486,605.1 486,605.1 483.8,611.8 483.5,612.2 481.4,614.8 481.1,615.3 477.6,622.2 477.3,623 476.4,629.8 476.4,630.6 477.3,635.1 477.4,635.6 477.7,636 480.4,639.9 480.7,640.3 483.4,643.1 483.5,643.2 483.5,643.3 483.7,643.7 484,644.3 484.5,644.8 485.1,645.1 485.8,645.3 486.5,645.3 487.2,645.1 487.8,644.8 488.4,644.2 488.8,643.9 489,643.4 491.5,638.5 491.8,637.8 491.8,637 491.1,631.9 491.1,631.8 491.1,631.7 496.4,615.4 496.5,614.6 496.3,608.3 496.2,607.4 495.8,606.7 495.2,606.1 495.1,605.9 495.1,605.7 494.9,599.7 494.8,599.1 494.5,598.5 494.1,598 493.6,597.6" fill="#3ee6d6" stroke="#3ee6d6" stroke-width="1" stroke-linejoin="round"/>
<polygon points="490.6,640.4 490.3,641 490.3,641.7 490.4,642.3 490.7,642.9 491.1,643.5 491.6,643.9 492.2,644.1 492.9,644.2 493.5,644.1 493.6,644.1 494.3,643.8 497.1,642.2 497.6,641.8 498,641.3 498.3,640.8 499.5,637.1 501.8,630.3 501.9,630.1 504.7,625 504.9,624.8 507,622.4 507.4,621.9 507.6,621.2 508.3,618.2 508.3,617.8 508.8,612.1 508.8,611.9 510.4,606.8 510.4,606.6 512.6,602.4 512.8,601.8 513.5,598.7 513.6,597.9 513.4,597.2 513,596.5 511.6,594.6 511.5,594.5 511.6,594.3 512.6,591.6 512.7,591.2 513.5,587.7 513.5,587 513.4,586.4 513.1,585.8 512.7,585.3 512.2,584.9 511.6,584.6 510.9,584.5 510.3,584.6 509.7,584.9 509.1,585.2 506.2,588.1 505.6,588.9 502.8,595 502.6,595.4 501.2,600.4 501.2,600.6 501.1,600.7 499.6,601.6 499.1,602 498.8,602.4 498.5,603 497.6,605.5 497.5,606.3 497.2,613.4 497.2,613.6 495.5,622.6 495.4,622.8 491.8,631.2 491.7,631.8 491.6,632.4 491.9,637.6 491.9,637.8 491.8,638" fill="#14a9f0" stroke="#14a9f0" stroke-width="1" stroke-linejoin="round"/>
<polygon points="493,645 497,642 498.7,646.2 496.5,649.3 491.9,650" fill="#3ee6d6" stroke="#3ee6d6" stroke-width="1" stroke-linejoin="round"/>
<polygon points="484.3,642.6 487,645 490,645.5 493,643.5 494.2,645 492,649 488.1,650 485,647" fill="#b4f08a" stroke="#b4f08a" stroke-width="1" stroke-linejoin="round"/>
<polygon points="736.7,610.6 736,610.3 735.3,610.3 734.7,610.4 734.1,610.7 733.5,611.1 733.1,611.7 732.9,612.3 732.7,613.4 732.7,613.9 732.7,614.4 735.9,628.6 735.9,628.6 737.9,639 737.9,639.4 737.2,646.5 737.2,646.5 736.7,650.4 736.7,651 736.8,651.5 737.6,654.1 737.9,654.8 738.3,655.3 738.9,655.7 740.5,656.5 740.5,656.5 745.1,659 745.2,659.1 745.2,659.3 745.8,664.2 745.9,664.8 746.1,665.5 746.4,666.1 746.9,666.6 747.5,667 749,667.7 749.8,667.9 750.6,667.8 750.7,667.8 751.4,667.6 751.9,667.2 752.4,666.7 753.4,665.1 753.7,664.5 753.8,663.7 753.8,655.7 753.6,654.8 751.8,649.9 751.7,649.7 748.7,643.6 748.2,642.9 744.6,639.3 744.5,639.2 744.5,639 741.2,624.6 741.2,624.6 738.8,612.7 738.5,612 738,611.4 737.4,610.9" fill="#7a14ff" stroke="#7a14ff" stroke-width="1" stroke-linejoin="round"/>
<polyline points="737,648.6 736.6,652.2" fill="none" stroke="#ff1010" stroke-width="1" stroke-linecap="round" stroke-linejoin="round"/>
<polyline points="747,641.2 748.3,643.6" fill="none" stroke="#ff1010" stroke-width="0.9" stroke-linecap="round" stroke-linejoin="round"/>
<polyline points="747.4,644.6 747.6,646" fill="none" stroke="#ff1010" stroke-width="0.9" stroke-linecap="round" stroke-linejoin="round"/>
<polyline points="751.6,649.5 752.8,654.5" fill="none" stroke="#ff1010" stroke-width="1" stroke-linecap="round" stroke-linejoin="round"/>
</g>
<rect x="51" y="6.6" width="301" height="292.9" fill="none" stroke="#4c4c4c" stroke-width="1.1"/>
<line x1="90.8" y1="299.5" x2="90.8" y2="302.8" stroke="#4c4c4c" stroke-width="1"/>
<text transform="translate(90.8,312.7) scale(1,1.15)" text-anchor="middle" class="t">−2</text>
<line x1="154.2" y1="299.5" x2="154.2" y2="302.8" stroke="#4c4c4c" stroke-width="1"/>
<text transform="translate(154.2,312.7) scale(1,1.15)" text-anchor="middle" class="t">0</text>
<line x1="217.6" y1="299.5" x2="217.6" y2="302.8" stroke="#4c4c4c" stroke-width="1"/>
<text transform="translate(217.6,312.7) scale(1,1.15)" text-anchor="middle" class="t">2</text>
<line x1="281" y1="299.5" x2="281" y2="302.8" stroke="#4c4c4c" stroke-width="1"/>
<text transform="translate(281,312.7) scale(1,1.15)" text-anchor="middle" class="t">4</text>
<line x1="344.4" y1="299.5" x2="344.4" y2="302.8" stroke="#4c4c4c" stroke-width="1"/>
<text transform="translate(344.4,312.7) scale(1,1.15)" text-anchor="middle" class="t">6</text>
<line x1="47.7" y1="35.4" x2="51" y2="35.4" stroke="#4c4c4c" stroke-width="1"/>
<text transform="translate(43.8,38.9) scale(1,1.15)" text-anchor="end" class="t">2.0</text>
<line x1="47.7" y1="80.3" x2="51" y2="80.3" stroke="#4c4c4c" stroke-width="1"/>
<text transform="translate(43.8,83.8) scale(1,1.15)" text-anchor="end" class="t">1.5</text>
<line x1="47.7" y1="125.2" x2="51" y2="125.2" stroke="#4c4c4c" stroke-width="1"/>
<text transform="translate(43.8,128.7) scale(1,1.15)" text-anchor="end" class="t">1.0</text>
<line x1="47.7" y1="170.2" x2="51" y2="170.2" stroke="#4c4c4c" stroke-width="1"/>
<text transform="translate(43.8,173.7) scale(1,1.15)" text-anchor="end" class="t">0.5</text>
<line x1="47.7" y1="215.1" x2="51" y2="215.1" stroke="#4c4c4c" stroke-width="1"/>
<text transform="translate(43.8,218.6) scale(1,1.15)" text-anchor="end" class="t">0.0</text>
<line x1="47.7" y1="260" x2="51" y2="260" stroke="#4c4c4c" stroke-width="1"/>
<text transform="translate(43.8,263.5) scale(1,1.15)" text-anchor="end" class="t">−0.5</text>
<text transform="translate(201.2,324.8) scale(1,1.0)" text-anchor="middle" class="t">pca1</text>
<text transform="translate(15.8,154.2) rotate(-90)" text-anchor="middle" class="t">pca2</text>
<text x="197.3" y="359.5" text-anchor="middle" class="cap">(<tspan font-weight="bold">a</tspan>)</text>
<rect x="483.7" y="9.3" width="296.9" height="288.6" fill="none" stroke="#4c4c4c" stroke-width="1.1"/>
<line x1="522.5" y1="297.9" x2="522.5" y2="301.2" stroke="#4c4c4c" stroke-width="1"/>
<text transform="translate(522.5,311.1) scale(1,1.15)" text-anchor="middle" class="t">−2</text>
<line x1="584.9" y1="297.9" x2="584.9" y2="301.2" stroke="#4c4c4c" stroke-width="1"/>
<text transform="translate(584.9,311.1) scale(1,1.15)" text-anchor="middle" class="t">0</text>
<line x1="647.2" y1="297.9" x2="647.2" y2="301.2" stroke="#4c4c4c" stroke-width="1"/>
<text transform="translate(647.2,311.1) scale(1,1.15)" text-anchor="middle" class="t">2</text>
<line x1="709.5" y1="297.9" x2="709.5" y2="301.2" stroke="#4c4c4c" stroke-width="1"/>
<text transform="translate(709.5,311.1) scale(1,1.15)" text-anchor="middle" class="t">4</text>
<line x1="771.9" y1="297.9" x2="771.9" y2="301.2" stroke="#4c4c4c" stroke-width="1"/>
<text transform="translate(771.9,311.1) scale(1,1.15)" text-anchor="middle" class="t">6</text>
<line x1="480.4" y1="37.7" x2="483.7" y2="37.7" stroke="#4c4c4c" stroke-width="1"/>
<text transform="translate(476.5,41.2) scale(1,1.15)" text-anchor="end" class="t">2.0</text>
<line x1="480.4" y1="82" x2="483.7" y2="82" stroke="#4c4c4c" stroke-width="1"/>
<text transform="translate(476.5,85.5) scale(1,1.15)" text-anchor="end" class="t">1.5</text>
<line x1="480.4" y1="126.4" x2="483.7" y2="126.4" stroke="#4c4c4c" stroke-width="1"/>
<text transform="translate(476.5,129.9) scale(1,1.15)" text-anchor="end" class="t">1.0</text>
<line x1="480.4" y1="170.7" x2="483.7" y2="170.7" stroke="#4c4c4c" stroke-width="1"/>
<text transform="translate(476.5,174.2) scale(1,1.15)" text-anchor="end" class="t">0.5</text>
<line x1="480.4" y1="215.1" x2="483.7" y2="215.1" stroke="#4c4c4c" stroke-width="1"/>
<text transform="translate(476.5,218.6) scale(1,1.15)" text-anchor="end" class="t">0.0</text>
<line x1="480.4" y1="259.4" x2="483.7" y2="259.4" stroke="#4c4c4c" stroke-width="1"/>
<text transform="translate(476.5,262.9) scale(1,1.15)" text-anchor="end" class="t">−0.5</text>
<text transform="translate(631.9,323.2) scale(1,1.0)" text-anchor="middle" class="t">pca1</text>
<text transform="translate(448.5,154.8) rotate(-90)" text-anchor="middle" class="t">pca2</text>
<text x="632" y="358" text-anchor="middle" class="cap">(<tspan font-weight="bold">b</tspan>)</text>
<rect x="48.7" y="389.2" width="299.9" height="291.7" fill="none" stroke="#4c4c4c" stroke-width="1.1"/>
<line x1="87.8" y1="680.9" x2="87.8" y2="684.2" stroke="#4c4c4c" stroke-width="1"/>
<text transform="translate(87.8,694.1) scale(1,1.15)" text-anchor="middle" class="t">−2</text>
<line x1="150.8" y1="680.9" x2="150.8" y2="684.2" stroke="#4c4c4c" stroke-width="1"/>
<text transform="translate(150.8,694.1) scale(1,1.15)" text-anchor="middle" class="t">0</text>
<line x1="213.8" y1="680.9" x2="213.8" y2="684.2" stroke="#4c4c4c" stroke-width="1"/>
<text transform="translate(213.8,694.1) scale(1,1.15)" text-anchor="middle" class="t">2</text>
<line x1="276.8" y1="680.9" x2="276.8" y2="684.2" stroke="#4c4c4c" stroke-width="1"/>
<text transform="translate(276.8,694.1) scale(1,1.15)" text-anchor="middle" class="t">4</text>
<line x1="339.8" y1="680.9" x2="339.8" y2="684.2" stroke="#4c4c4c" stroke-width="1"/>
<text transform="translate(339.8,694.1) scale(1,1.15)" text-anchor="middle" class="t">6</text>
<line x1="45.4" y1="417.5" x2="48.7" y2="417.5" stroke="#4c4c4c" stroke-width="1"/>
<text transform="translate(41.5,421) scale(1,1.15)" text-anchor="end" class="t">2.0</text>
<line x1="45.4" y1="462.3" x2="48.7" y2="462.3" stroke="#4c4c4c" stroke-width="1"/>
<text transform="translate(41.5,465.8) scale(1,1.15)" text-anchor="end" class="t">1.5</text>
<line x1="45.4" y1="507" x2="48.7" y2="507" stroke="#4c4c4c" stroke-width="1"/>
<text transform="translate(41.5,510.5) scale(1,1.15)" text-anchor="end" class="t">1.0</text>
<line x1="45.4" y1="551.8" x2="48.7" y2="551.8" stroke="#4c4c4c" stroke-width="1"/>
<text transform="translate(41.5,555.3) scale(1,1.15)" text-anchor="end" class="t">0.5</text>
<line x1="45.4" y1="596.5" x2="48.7" y2="596.5" stroke="#4c4c4c" stroke-width="1"/>
<text transform="translate(41.5,600) scale(1,1.15)" text-anchor="end" class="t">0.0</text>
<line x1="45.4" y1="641.3" x2="48.7" y2="641.3" stroke="#4c4c4c" stroke-width="1"/>
<text transform="translate(41.5,644.8) scale(1,1.15)" text-anchor="end" class="t">−0.5</text>
<text transform="translate(198.3,706.2) scale(1,1.0)" text-anchor="middle" class="t">pca1</text>
<text transform="translate(13.5,536.2) rotate(-90)" text-anchor="middle" class="t">pca2</text>
<text x="197.5" y="741" text-anchor="middle" class="cap">(<tspan font-weight="bold">c</tspan>)</text>
<rect x="466.1" y="386.3" width="299.3" height="291.4" fill="none" stroke="#4c4c4c" stroke-width="1.1"/>
<line x1="505.3" y1="677.7" x2="505.3" y2="681" stroke="#4c4c4c" stroke-width="1"/>
<text transform="translate(505.3,690.9) scale(1,1.15)" text-anchor="middle" class="t">−2</text>
<line x1="568.4" y1="677.7" x2="568.4" y2="681" stroke="#4c4c4c" stroke-width="1"/>
<text transform="translate(568.4,690.9) scale(1,1.15)" text-anchor="middle" class="t">0</text>
<line x1="631.4" y1="677.7" x2="631.4" y2="681" stroke="#4c4c4c" stroke-width="1"/>
<text transform="translate(631.4,690.9) scale(1,1.15)" text-anchor="middle" class="t">2</text>
<line x1="694.5" y1="677.7" x2="694.5" y2="681" stroke="#4c4c4c" stroke-width="1"/>
<text transform="translate(694.5,690.9) scale(1,1.15)" text-anchor="middle" class="t">4</text>
<line x1="757.5" y1="677.7" x2="757.5" y2="681" stroke="#4c4c4c" stroke-width="1"/>
<text transform="translate(757.5,690.9) scale(1,1.15)" text-anchor="middle" class="t">6</text>
<line x1="462.8" y1="414.9" x2="466.1" y2="414.9" stroke="#4c4c4c" stroke-width="1"/>
<text transform="translate(458.9,418.4) scale(1,1.15)" text-anchor="end" class="t">2.0</text>
<line x1="462.8" y1="459.6" x2="466.1" y2="459.6" stroke="#4c4c4c" stroke-width="1"/>
<text transform="translate(458.9,463.1) scale(1,1.15)" text-anchor="end" class="t">1.5</text>
<line x1="462.8" y1="504.3" x2="466.1" y2="504.3" stroke="#4c4c4c" stroke-width="1"/>
<text transform="translate(458.9,507.8) scale(1,1.15)" text-anchor="end" class="t">1.0</text>
<line x1="462.8" y1="549.1" x2="466.1" y2="549.1" stroke="#4c4c4c" stroke-width="1"/>
<text transform="translate(458.9,552.6) scale(1,1.15)" text-anchor="end" class="t">0.5</text>
<line x1="462.8" y1="593.8" x2="466.1" y2="593.8" stroke="#4c4c4c" stroke-width="1"/>
<text transform="translate(458.9,597.3) scale(1,1.15)" text-anchor="end" class="t">0.0</text>
<line x1="462.8" y1="638.5" x2="466.1" y2="638.5" stroke="#4c4c4c" stroke-width="1"/>
<text transform="translate(458.9,642) scale(1,1.15)" text-anchor="end" class="t">−0.5</text>
<text transform="translate(615.5,703) scale(1,1.0)" text-anchor="middle" class="t">pca1</text>
<text transform="translate(430.9,533.2) rotate(-90)" text-anchor="middle" class="t">pca2</text>
<text x="612.5" y="742" text-anchor="middle" class="cap">(<tspan font-weight="bold">d</tspan>)</text>
</svg>
</body></html>
